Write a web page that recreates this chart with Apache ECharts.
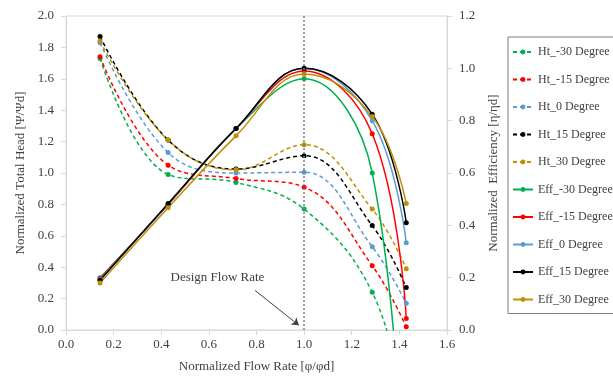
<!DOCTYPE html>
<html>
<head>
<meta charset="utf-8">
<script src="https://cdn.jsdelivr.net/npm/echarts@6/dist/echarts.min.js"></script>
<style>
  html, body { margin: 0; padding: 0; background: #fff; }
  #chart { width: 613px; height: 378px; }
</style>
</head>
<body>
<div id="chart"></div>
<script>
// flow rate points (normalized)
const flowRate = [0.143, 0.429, 0.714, 1.0, 1.286, 1.429];

// normalized total head
const htM30 = [1.73, 0.99, 0.94, 0.77, 0.24, -0.55];
const htM15 = [1.74, 1.05, 0.965, 0.91, 0.41, 0.02];
const ht0 = [1.83, 1.13, 1.0, 1.005, 0.53, 0.17];
const ht15 = [1.87, 1.21, 1.025, 1.11, 0.665, 0.27];
const ht30 = [1.84, 1.21, 1.02, 1.18, 0.77, 0.39];

// normalized efficiency
const effM30 = [0.20, 0.48, 0.77, 0.96, 0.60, -1.0];
const effM15 = [0.197, 0.48, 0.77, 0.99, 0.75, 0.044];
const eff0 = [0.193, 0.482, 0.77, 1.0, 0.80, 0.333];
const eff15 = [0.19, 0.483, 0.77, 1.0, 0.825, 0.41];
const eff30 = [0.18, 0.467, 0.742, 0.978, 0.816, 0.483];

const designFlow = 1.0;
const noteText = 'Design Flow Rate';

const font = 'Liberation Serif';
const textColor = '#404040';
const axisColor = '#d9d9d9';

const pairs = (ys) => flowRate.map((x, i) => [x, ys[i]]);

const makeSeries = (name, ys, color, dashed, yAxisIndex) => ({
  name,
  type: 'line',
  yAxisIndex,
  data: pairs(ys),
  smooth: 0.4,
  symbol: 'circle',
  symbolSize: 5,
  clip: true,
  itemStyle: { color },
  lineStyle: { color, width: 1.5, type: dashed ? [4, 3] : 'solid' },
});

const series = [
  makeSeries('Ht_-30 Degree', htM30, '#00b050', true, 0),
  makeSeries('Ht_-15 Degree', htM15, '#ff0000', true, 0),
  makeSeries('Ht_0 Degree', ht0, '#5b9bd5', true, 0),
  makeSeries('Ht_15 Degree', ht15, '#000000', true, 0),
  makeSeries('Ht_30 Degree', ht30, '#bf9000', true, 0),
  makeSeries('Eff_-30 Degree', effM30, '#00b050', false, 1),
  makeSeries('Eff_-15 Degree', effM15, '#ff0000', false, 1),
  makeSeries('Eff_0 Degree', eff0, '#5b9bd5', false, 1),
  makeSeries('Eff_15 Degree', eff15, '#000000', false, 1),
  makeSeries('Eff_30 Degree', eff30, '#bf9000', false, 1),
];

// dotted design-flow line + annotation arrow
series[0].markLine = {
  silent: true,
  symbol: 'none',
  label: { show: false },
  lineStyle: { color: '#808080', type: [2, 2], width: 1.5 },
  data: [{ xAxis: designFlow }],
};
series[1].markLine = {
  silent: true,
  symbol: ['none', 'arrow'],
  symbolSize: 7,
  label: { show: false },
  lineStyle: { color: '#404040', type: 'solid', width: 1 },
  data: [[{ coord: [0.794, 0.252] }, { coord: [0.978, 0.03] }]],
};
series[1].markPoint = {
  silent: true,
  symbol: 'circle',
  symbolSize: 0,
  label: {
    show: true,
    position: 'inside',
    formatter: noteText,
    color: textColor,
    fontFamily: font,
    fontSize: 13,
  },
  data: [{ coord: [0.636, 0.337] }],
};

const chart = echarts.init(document.getElementById('chart'));

const valueAxis = (extra) => Object.assign({
  type: 'value',
  min: 0,
  interval: 0.2,
  splitLine: { show: false },
  axisLine: { show: true, lineStyle: { color: axisColor } },
  axisTick: { show: true, length: 5, lineStyle: { color: axisColor } },
  axisLabel: {
    color: textColor,
    fontFamily: font,
    fontSize: 13,
    formatter: (v) => v.toFixed(1),
  },
  nameLocation: 'middle',
  nameTextStyle: { color: textColor, fontFamily: font, fontSize: 13 },
}, extra);

chart.setOption({
  animation: false,
  backgroundColor: '#fff',
  grid: {
    left: 66,
    right: 166,
    top: 16,
    bottom: 47,
    show: true,
    borderColor: axisColor,
    borderWidth: 1,
  },
  legend: {
    orient: 'vertical',
    left: 508,
    top: 37,
    padding: [8, 6, 7, 4],
    itemGap: 13.5,
    itemWidth: 20,
    itemHeight: 6,
    borderColor: '#7f7f7f',
    borderWidth: 1,
    backgroundColor: '#fff',
    textStyle: { color: textColor, fontFamily: font, fontSize: 12, lineHeight: 14 },
    data: series.map((s) => s.name),
  },
  xAxis: valueAxis({
    max: 1.6,
    name: 'Normalized Flow Rate [φ/φd]',
    nameGap: 30,
    axisLabel: {
      color: textColor,
      fontFamily: font,
      fontSize: 13,
      margin: 8,
      formatter: (v) => v.toFixed(1),
    },
  }),
  yAxis: [
    valueAxis({
      max: 2.0,
      position: 'left',
      name: 'Normalized Total Head [Ψ/Ψd]',
      nameRotate: 90,
      nameGap: 38,
      axisLabel: {
        color: textColor,
        fontFamily: font,
        fontSize: 13,
        margin: 12,
        formatter: (v) => v.toFixed(1),
      },
    }),
    valueAxis({
      max: 1.2,
      position: 'right',
      name: 'Normalized  Efficiency [η/ηd]',
      nameRotate: 90,
      nameGap: 40,
      axisLabel: {
        color: textColor,
        fontFamily: font,
        fontSize: 13,
        margin: 12,
        formatter: (v) => v.toFixed(1),
      },
    }),
  ],
  series,
});
</script>
</body>
</html>
